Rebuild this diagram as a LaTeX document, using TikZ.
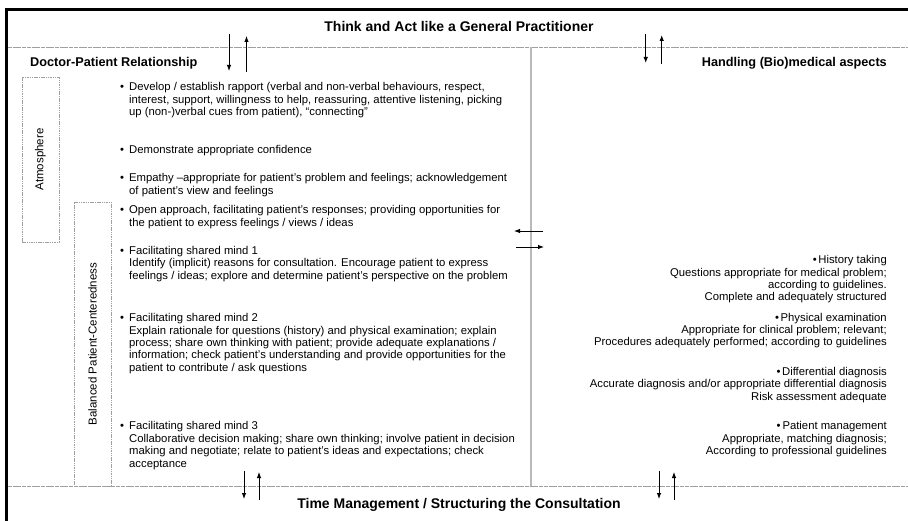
\documentclass[tikz,border=0pt]{standalone}
\usepackage{fontspec}
\setmainfont{Liberation Sans}
\usetikzlibrary{arrows.meta}
\begin{document}
\begin{tikzpicture}[x=1pt,y=-1pt,
  body/.style={font=\fontsize{11.3}{12.4}\selectfont, inner sep=0pt, align=left, anchor=base west},
  rbody/.style={font=\fontsize{11.3}{12.4}\selectfont, inner sep=0pt, align=right, anchor=base east},
  bul/.style={font=\fontsize{11.3}{12.4}\selectfont, inner sep=0pt, anchor=base},
  head/.style={font=\fontsize{12.7}{15}\selectfont\bfseries, inner sep=0pt},
  title/.style={font=\fontsize{14}{16}\selectfont\bfseries, inner sep=0pt, anchor=base},
  side/.style={font=\fontsize{11.5}{13}\selectfont, inner sep=0pt, rotate=90},
  frameline/.style={line width=3pt, black},
  grule/.style={gray!75, line width=0.9pt, dash pattern=on 4pt off 0.7pt},
  vrule/.style={gray!55, line width=1.5pt},
  dbox/.style={draw=gray!75, line width=0.7pt, dash pattern=on 1.5pt off 0.8pt},
  arr/.style={line width=0.9pt, -{Latex[length=6pt,width=4.5pt]}}
]
\useasboundingbox (0,0) rectangle (908,521);
% frame and rules
\coordinate (fTL) at (6.5,10);
\coordinate (fTR) at (908,10);
\coordinate (fBL) at (6.5,521);
\draw[frameline] (fBL) -- (fTL) -- (fTR);
\coordinate (r1L) at (8,47); \coordinate (r1R) at (908,47);
\coordinate (r2L) at (8,486); \coordinate (r2R) at (908,486);
\draw[grule] (r1L) -- (r1R);
\draw[grule] (r2L) -- (r2R);
\coordinate (vT) at (531,47); \coordinate (vB) at (531,486);
\draw[vrule] (vT) -- (vB);

% titles
\node[title] (ttop) at (459,32) {Think and Act like a General Practitioner};
\node[title] (tbot) at (459,508) {Time Management / Structuring the Consultation};
\node[head, anchor=base west] (hdp) at (30,66.5) {Doctor-Patient Relationship};
\node[head, anchor=base east] (hbio) at (887,66.5) {Handling (Bio)medical aspects};

% side boxes
\node[dbox, minimum width=37pt, minimum height=165pt, inner sep=0pt] (atm) at (40.5,159.5) {};
\node[side] (atmt) at (atm.center) {Atmosphere};
\node[dbox, minimum width=37pt, minimum height=284pt, inner sep=0pt] (bpc) at (92.5,344) {};
\node[side] (bpct) at (92.5,344) {Balanced Patient-Centeredness};

% left bullets (base anchor = baseline of last line)
\node[bul] (b1) at (122,90.8) {\textbullet};
\node[body] (t1) at (129,115.6) {Develop / establish rapport (verbal and non-verbal behaviours, respect,\\interest, support, willingness to help, reassuring, attentive listening, picking\\up (non-)verbal cues from patient), “connecting”};
\node[bul] (b2) at (122,153.8) {\textbullet};
\node[body] (t2) at (129,153.8) {Demonstrate appropriate confidence};
\node[bul] (b3) at (122,181.8) {\textbullet};
\node[body] (t3) at (129,194.2) {Empathy –appropriate for patient’s problem and feelings; acknowledgement\\of patient’s view and feelings};
\node[bul] (b4) at (122,213.8) {\textbullet};
\node[body] (t4) at (129,226.2) {Open approach, facilitating patient’s responses; providing opportunities for\\the patient to express feelings / views / ideas};
\node[bul] (b5) at (122,254.3) {\textbullet};
\node[body] (t5) at (129,279.1) {Facilitating shared mind 1\\Identify (implicit) reasons for consultation. Encourage patient to express\\feelings / ideas; explore and determine patient’s perspective on the problem};
\node[bul] (b6) at (122,321.8) {\textbullet};
\node[body] (t6) at (129,371.4) {Facilitating shared mind 2\\Explain rationale for questions (history) and physical examination; explain\\process; share own thinking with patient; provide adequate explanations /\\information; check patient’s understanding and provide opportunities for the\\patient to contribute / ask questions};
\node[bul] (b7) at (122,429.8) {\textbullet};
\node[body] (t7) at (129,467.0) {Facilitating shared mind 3\\Collaborative decision making; share own thinking; involve patient in decision\\making and negotiate; relate to patient’s ideas and expectations; check\\acceptance};

% right column
\node[rbody] (r1) at (887,301.0) {\textbullet\hspace{1.5pt}History taking\\Questions appropriate for medical problem;\\according to guidelines.\\Complete and adequately structured};
\node[rbody] (r2) at (887,345.9) {\textbullet\hspace{1.5pt}Physical examination\\Appropriate for clinical problem; relevant;\\Procedures adequately performed; according to guidelines};
\node[rbody] (r3) at (887,400.3) {\textbullet\hspace{1.5pt}Differential diagnosis\\Accurate diagnosis and/or appropriate differential diagnosis\\Risk assessment adequate};
\node[rbody] (r4) at (887,454.6) {\textbullet\hspace{2pt}Patient management\\Appropriate, matching diagnosis;\\According to professional guidelines};

% arrows
\coordinate (a1s) at (229,34); \coordinate (a1e) at (229,71);
\coordinate (a2s) at (246.5,72); \coordinate (a2e) at (246.5,36);
\draw[arr] (a1s) -- (a1e);
\draw[arr] (a2s) -- (a2e);
\coordinate (a3s) at (645.7,34); \coordinate (a3e) at (645.7,63);
\coordinate (a4s) at (661.7,64); \coordinate (a4e) at (661.7,35);
\draw[arr] (a3s) -- (a3e);
\draw[arr] (a4s) -- (a4e);
\coordinate (a5s) at (244,471); \coordinate (a5e) at (244,499);
\coordinate (a6s) at (259,500); \coordinate (a6e) at (259,472);
\draw[arr] (a5s) -- (a5e);
\draw[arr] (a6s) -- (a6e);
\coordinate (a7s) at (659,471); \coordinate (a7e) at (659,499);
\coordinate (a8s) at (674,500); \coordinate (a8e) at (674,472);
\draw[arr] (a7s) -- (a7e);
\draw[arr] (a8s) -- (a8e);
\coordinate (a9s) at (543,231); \coordinate (a9e) at (514,231);
\coordinate (a10s) at (516,247); \coordinate (a10e) at (544,247);
\draw[arr] (a9s) -- (a9e);
\draw[arr] (a10s) -- (a10e);
\end{tikzpicture}
\end{document}
